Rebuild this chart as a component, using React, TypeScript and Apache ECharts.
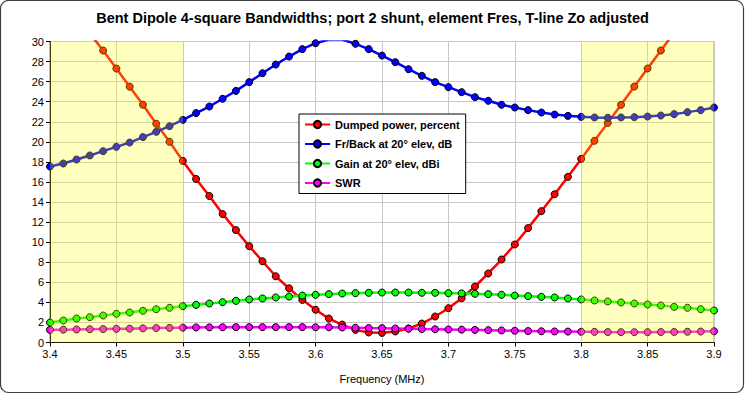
import React, { useEffect, useRef } from "react";
import * as echarts from "echarts";

const freqs = [
  3.40, 3.41, 3.42, 3.43, 3.44, 3.45, 3.46, 3.47, 3.48, 3.49,
  3.50, 3.51, 3.52, 3.53, 3.54, 3.55, 3.56, 3.57, 3.58, 3.59,
  3.60, 3.61, 3.62, 3.63, 3.64, 3.65, 3.66, 3.67, 3.68, 3.69,
  3.70, 3.71, 3.72, 3.73, 3.74, 3.75, 3.76, 3.77, 3.78, 3.79,
  3.80, 3.81, 3.82, 3.83, 3.84, 3.85, 3.86, 3.87, 3.88, 3.89, 3.90,
];

const dumpedPower = [
  36.3, 34.5, 32.7, 30.8, 29.1, 27.3, 25.5, 23.7, 21.8, 20.0,
  18.1, 16.3, 14.6, 12.8, 11.2, 9.6, 8.1, 6.6, 5.4, 4.25,
  3.26, 2.39, 1.79, 1.26, 1.0, 0.96, 1.1, 1.4, 1.89, 2.59,
  3.42, 4.42, 5.58, 6.88, 8.27, 9.77, 11.4, 13.09, 14.78, 16.51,
  18.3, 20.1, 21.89, 23.69, 25.51, 27.31, 29.1, 30.9, 32.7, 34.5, 36.3,
];

const frontBack = [
  17.54, 17.84, 18.24, 18.64, 19.07, 19.5, 19.93, 20.47, 21.0, 21.56,
  22.19, 22.86, 23.52, 24.29, 25.08, 25.95, 26.84, 27.7, 28.5, 29.24,
  29.83, 30.2, 30.2, 29.77, 29.24, 28.6, 27.94, 27.24, 26.58, 25.95,
  25.45, 24.95, 24.45, 24.09, 23.69, 23.42, 23.16, 22.92, 22.72, 22.59,
  22.49, 22.43, 22.39, 22.43, 22.46, 22.52, 22.62, 22.76, 22.96, 23.16, 23.42,
];

const gain = [
  1.99, 2.19, 2.39, 2.52, 2.69, 2.86, 2.99, 3.16, 3.32, 3.46,
  3.62, 3.75, 3.89, 4.02, 4.15, 4.29, 4.39, 4.49, 4.58, 4.68,
  4.75, 4.82, 4.88, 4.92, 4.95, 4.98, 4.98, 4.98, 4.95, 4.95,
  4.92, 4.9, 4.85, 4.82, 4.75, 4.68, 4.62, 4.55, 4.49, 4.39,
  4.29, 4.19, 4.09, 3.99, 3.89, 3.79, 3.69, 3.55, 3.46, 3.32, 3.19,
];

const swr = [
  1.26, 1.28, 1.3, 1.32, 1.34, 1.36, 1.38, 1.41, 1.44, 1.46,
  1.48, 1.5, 1.51, 1.52, 1.53, 1.53, 1.53, 1.53, 1.53, 1.53,
  1.52, 1.52, 1.5, 1.47, 1.44, 1.43, 1.4, 1.37, 1.34, 1.32,
  1.3, 1.28, 1.26, 1.23, 1.2, 1.17, 1.14, 1.12, 1.1, 1.09,
  1.07, 1.06, 1.04, 1.03, 1.03, 1.03, 1.04, 1.05, 1.07, 1.09, 1.12,
];

const seriesNames = [
  "Dumped power, percent",
  "Fr/Back at 20° elev, dB",
  "Gain at 20° elev, dBi",
  "SWR",
];
const seriesColors = ["#FF0000", "#0000FF", "#00FF00", "#FF00FF"];
const seriesValues = [dumpedPower, frontBack, gain, swr];

const bandRanges = [
  [3.4, 3.5],
  [3.8, 3.9],
];

const FONT = "Liberation Sans, Arial, sans-serif";

export default function App() {
  const ref = useRef<HTMLDivElement>(null);

  useEffect(() => {
    if (!ref.current) return;
    const chart = echarts.init(ref.current, undefined, { renderer: "svg" });

    const lineSeries = seriesValues.map((vals, i) => ({
      name: seriesNames[i],
      type: "line",
      data: freqs.map((f, j) => [f, vals[j]]),
      symbol: "circle",
      symbolSize: 7,
      showAllSymbol: true,
      clip: true,
      lineStyle: { color: seriesColors[i], width: 2.5 },
      itemStyle: { color: seriesColors[i], borderColor: "#000", borderWidth: 1 },
      z: 2,
    }));

    const option: any = {
      animation: false,
      backgroundColor: "#fff",
      textStyle: { fontFamily: FONT },
      title: {
        text: "Bent Dipole 4-square Bandwidths; port 2 shunt, element Fres, T-line Zo adjusted",
        left: "center",
        top: 5,
        textStyle: { fontSize: 14.5, fontWeight: "bold", color: "#000", fontFamily: FONT },
      },
      graphic: [
        {
          type: "rect",
          shape: { x: 0.5, y: 0.5, width: 743, height: 392, r: 8 },
          style: { fill: "none", stroke: "#404040", lineWidth: 1.2 },
          silent: true,
          z: 100,
        },
      ],
      legend: {
        data: seriesNames,
        orient: "vertical",
        left: 299,
        top: 114,
        padding: [4, 6, 4, 5],
        itemGap: 6.5,
        itemWidth: 25,
        itemHeight: 9,
        backgroundColor: "#fff",
        borderColor: "#000",
        borderWidth: 1,
        borderRadius: 0,
        textStyle: { fontSize: 11, fontWeight: "bold", color: "#000", fontFamily: FONT, lineHeight: 13 },
        z: 20,
      },
      grid: {
        left: 50,
        right: 31,
        top: 41.5,
        bottom: 51.5,
        show: true,
        borderColor: "#808080",
        borderWidth: 1,
        backgroundColor: "#fff",
      },
      xAxis: {
        type: "value",
        min: 3.4,
        max: 3.9,
        interval: 0.05,
        name: "Frequency (MHz)",
        nameLocation: "middle",
        nameGap: 31,
        nameTextStyle: { fontSize: 11, color: "#000", fontFamily: FONT },
        axisLine: { show: true, onZero: false, lineStyle: { color: "#000", width: 1 } },
        axisTick: { show: true, length: 4, lineStyle: { color: "#000" } },
        axisLabel: {
          fontSize: 11,
          color: "#000",
          margin: 6,
          fontFamily: FONT,
          formatter: (v: number) => String(+v.toFixed(2)),
        },
        splitLine: { show: true, lineStyle: { color: "#c8c8c8", width: 1 } },
      },
      yAxis: {
        type: "value",
        min: 0,
        max: 30,
        interval: 2,
        axisLine: { show: true, lineStyle: { color: "#000", width: 1 } },
        axisTick: { show: true, length: 4, lineStyle: { color: "#000" } },
        axisLabel: { fontSize: 11, color: "#000", margin: 6, fontFamily: FONT },
        splitLine: { show: true, lineStyle: { color: "#c8c8c8", width: 1 } },
      },
      series: [
        ...lineSeries,
        {
          name: "bands",
          type: "line",
          data: [],
          silent: true,
          markArea: {
            silent: true,
            z: 10,
            itemStyle: { color: "rgba(255,255,0,0.25)" },
            data: bandRanges.map((r) => [{ xAxis: r[0] }, { xAxis: r[1] }]),
          },
        },
      ],
    };

    chart.setOption(option);
    return () => chart.dispose();
  }, []);

  return (
    <div
      ref={ref}
      style={{ position: "fixed", left: 0, top: 0, width: 745, height: 394 }}
    />
  );
}
